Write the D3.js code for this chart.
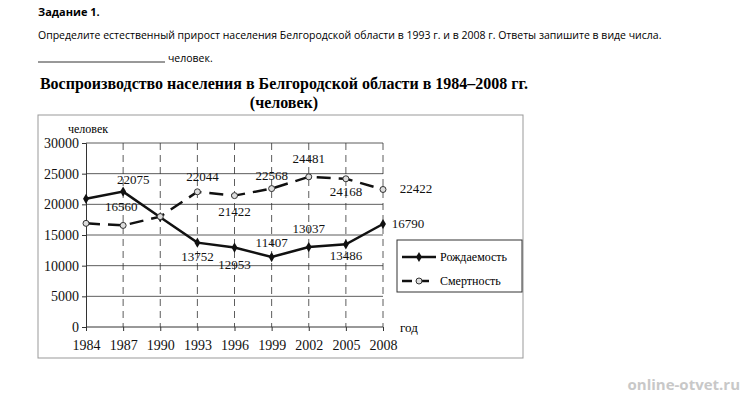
<!DOCTYPE html><html><head><meta charset="utf-8"><script src="https://cdn.jsdelivr.net/npm/d3@7"></script>
<style>body{margin:0;background:#fff}</style></head><body><svg id="c" width="748" height="400"></svg>
<script>
const years=[1984,1987,1990,1993,1996,1999,2002,2005,2008];
const births=[20900,22075,17900,13752,12953,11407,13037,13486,16790];
const deaths=[16900,16560,18000,22044,21422,22568,24481,24168,22422];
const yTicks=[0,5000,10000,15000,20000,25000,30000];
const birthLabels=[null,"22075",null,"13752","12953","11407","13037","13486","16790"];
const deathLabels=[null,"16560",null,"22044","21422","22568","24481","24168","22422"];

const svg=d3.select("#c");
const sans="'Open Sans',sans-serif", serif="'Liberation Serif',serif";
svg.append("text").attr("x",38).attr("y",16).attr("font-family",sans).attr("font-weight","bold").attr("font-size",11).text("Задание 1.");
svg.append("text").attr("x",38).attr("y",39).attr("font-family",sans).attr("font-size",10.5).text("Определите естественный прирост населения Белгородской области в 1993 г. и в 2008 г. Ответы запишите в виде числа.");
svg.append("line").attr("x1",38).attr("x2",165).attr("y1",62).attr("y2",62).attr("stroke","#333");
svg.append("text").attr("x",168).attr("y",62).attr("font-family",sans).attr("font-size",10.5).text("человек.");
svg.append("text").attr("x",284).attr("y",89).attr("text-anchor","middle").attr("font-family",serif).attr("font-weight","bold").attr("font-size",16).text("Воспроизводство населения в Белгородской области в 1984–2008 гг.");
svg.append("text").attr("x",284).attr("y",108).attr("text-anchor","middle").attr("font-family",serif).attr("font-weight","bold").attr("font-size",16).text("(человек)");
svg.append("rect").attr("x",38).attr("y",115).attr("width",485).attr("height",243).attr("fill","none").attr("stroke","#999");

const x=d3.scalePoint().domain(years).range([86,383]);
const y=d3.scaleLinear().domain([0,30000]).range([327,143]);
const g=svg.append("g").attr("font-family",serif);
yTicks.forEach(t=>{ if(t>0) g.append("line").attr("x1",86).attr("x2",383).attr("y1",y(t)).attr("y2",y(t)).attr("stroke","#333").attr("stroke-width",0.8);});
years.slice(1).forEach(yr=>g.append("line").attr("x1",x(yr)).attr("x2",x(yr)).attr("y1",y(30000)).attr("y2",y(0)).attr("stroke","#333").attr("stroke-dasharray","7,5").attr("stroke-width",0.8));
const ya=g.append("g").attr("transform","translate(86,0)").call(d3.axisLeft(y).tickValues(yTicks).tickSize(4).tickFormat(d3.format("d")));
const xa=g.append("g").attr("transform","translate(0,327)").call(d3.axisBottom(x).tickSize(4).tickPadding(9));
[ya,xa].forEach(a=>{a.selectAll("text").attr("font-family",serif).attr("font-size",14).attr("fill","#111");a.selectAll("path,line").attr("stroke","#333");});
xa.select(".domain").attr("d","M86,0H383");
g.append("text").attr("x",68).attr("y",133).attr("font-size",12).text("человек");
g.append("text").attr("x",400).attr("y",332).attr("font-size",13).text("год");

const line=d3.line().x((d,i)=>x(years[i])).y(d=>y(d));
g.append("path").datum(births).attr("d",line).attr("fill","none").attr("stroke","#111").attr("stroke-width",2.5);
g.append("path").datum(deaths).attr("d",line).attr("fill","none").attr("stroke","#111").attr("stroke-width",2.5).attr("stroke-dasharray","14,8");
g.selectAll(".b").data(births).join("path").attr("transform",(d,i)=>`translate(${x(years[i])},${y(d)})`).attr("d",d3.symbol(d3.symbolDiamond,30)).attr("fill","#111");
g.selectAll(".d").data(deaths).join("circle").attr("cx",(d,i)=>x(years[i])).attr("cy",d=>y(d)).attr("r",3).attr("fill","#ddd").attr("stroke","#333");

const bOff=[null,[10,-8],null,[0,18],[0,21],[0,-10],[0,-14],[0,16],[25,4]];
const dOff=[null,[-2,-14],null,[5,-11],[0,20],[0,-9],[0,-14],[0,17],[33,4]];
function lab(labels,vals,off){labels.forEach((t,i)=>{if(!t)return;g.append("text").attr("x",x(years[i])+off[i][0]).attr("y",y(vals[i])+off[i][1]).attr("text-anchor","middle").attr("font-size",13).attr("fill","#111").text(t);});}
lab(birthLabels,births,bOff);lab(deathLabels,deaths,dOff);

const lg=g.append("g");
lg.append("rect").attr("x",397).attr("y",240).attr("width",125).attr("height",52).attr("fill","#fff").attr("stroke","#333");
lg.append("line").attr("x1",402).attr("x2",436).attr("y1",257).attr("y2",257).attr("stroke","#111").attr("stroke-width",2.5);
lg.append("path").attr("transform","translate(419,257)").attr("d",d3.symbol(d3.symbolDiamond,30)).attr("fill","#111");
lg.append("text").attr("x",440).attr("y",261).attr("font-size",12).text("Рождаемость");
lg.append("line").attr("x1",402).attr("x2",436).attr("y1",281).attr("y2",281).attr("stroke","#111").attr("stroke-width",2.5).attr("stroke-dasharray","10,7");
lg.append("circle").attr("cx",419).attr("cy",281).attr("r",3).attr("fill","#ddd").attr("stroke","#333");
lg.append("text").attr("x",440).attr("y",285).attr("font-size",12).text("Смертность");
svg.append("text").attr("x",740).attr("y",390).attr("text-anchor","end").attr("font-family",sans).attr("font-weight","bold").attr("font-size",15).attr("fill","#c8c8c8").text("online-otvet.ru");
</script></body></html>
